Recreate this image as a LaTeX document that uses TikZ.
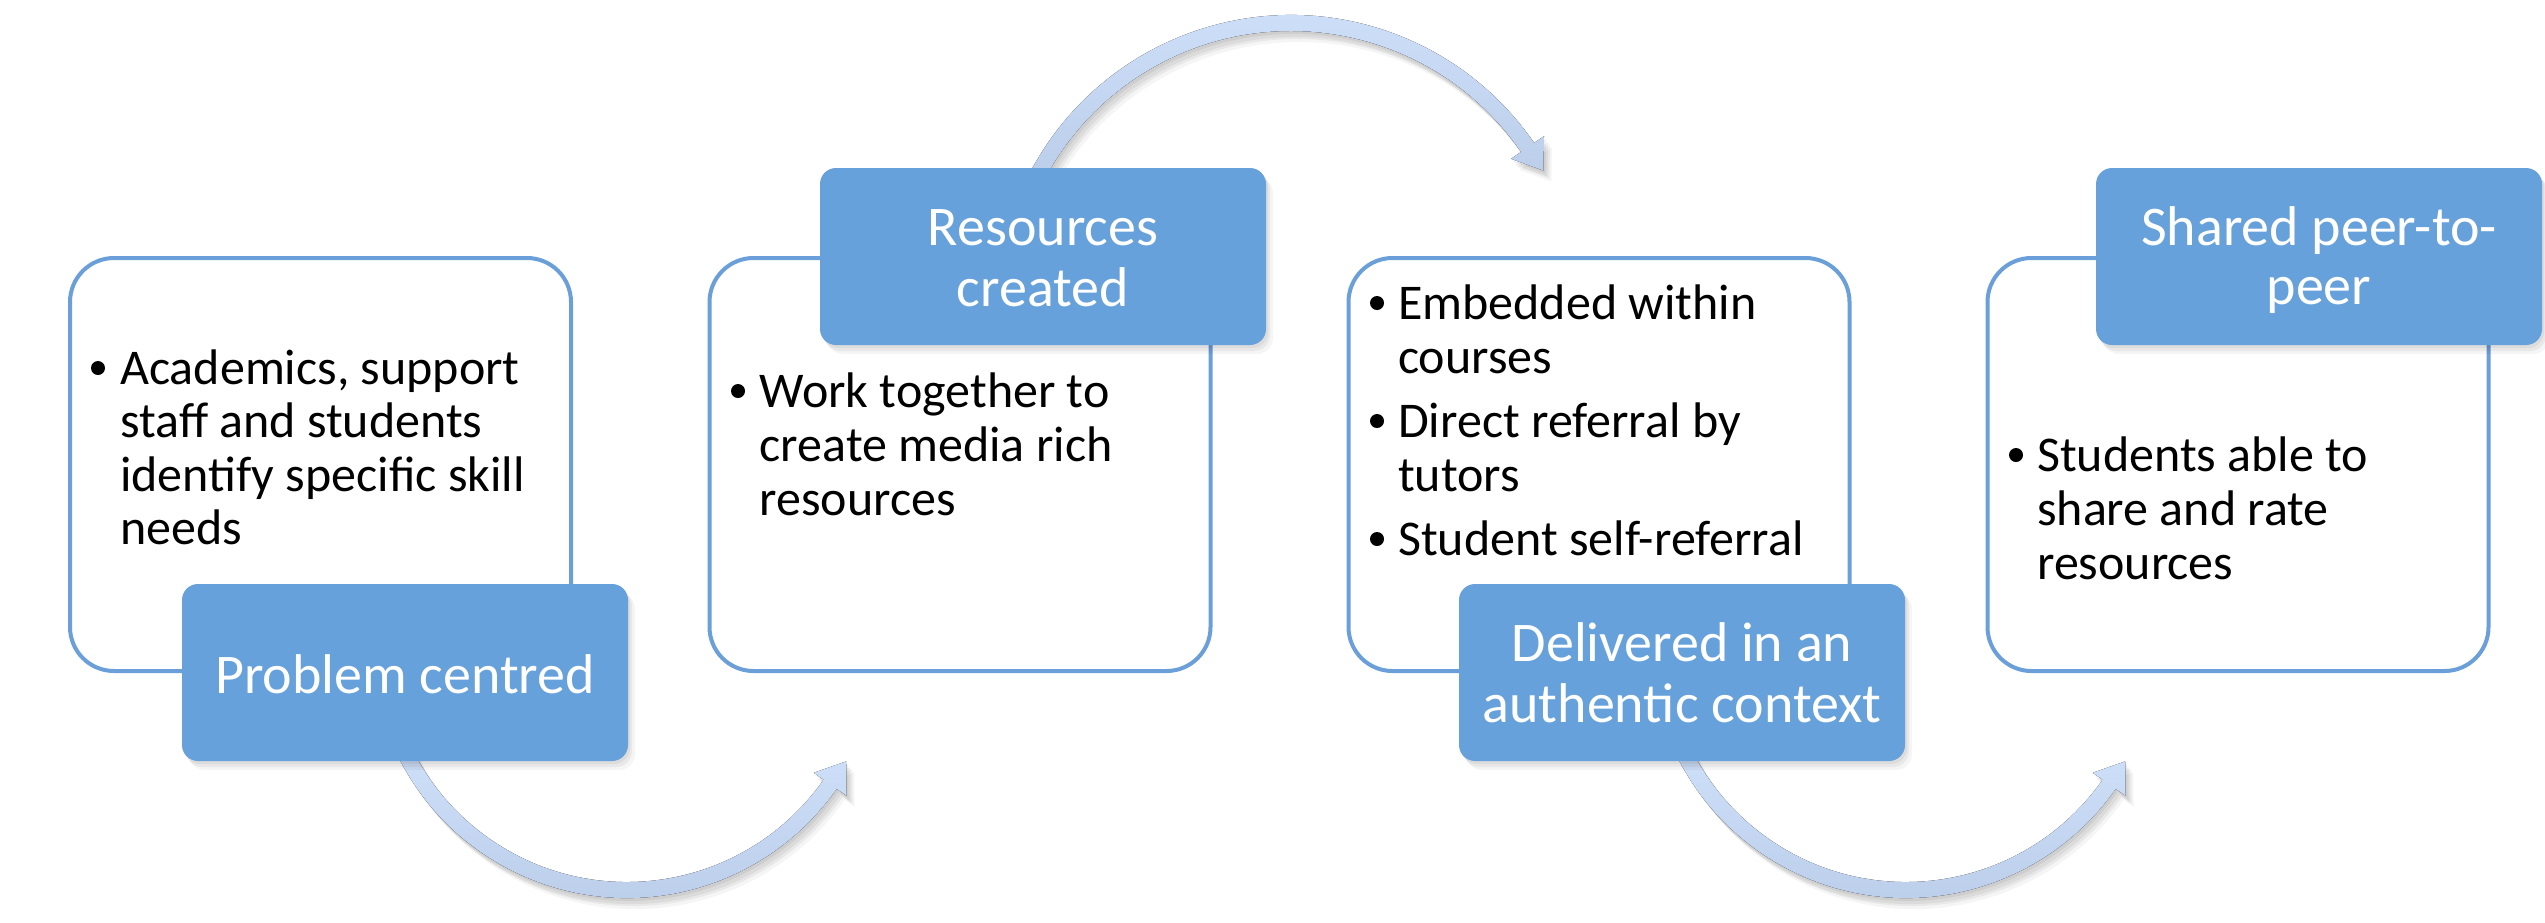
\documentclass[tikz,border=0pt]{standalone}
\usepackage{fontspec}
\setmainfont{Carlito}
\usetikzlibrary{calc,shadows}
\definecolor{boxblue}{HTML}{66A1DB}
\definecolor{boxline}{HTML}{6A9FDA}
\definecolor{arctop}{HTML}{D1E2FB}
\definecolor{arcbot}{HTML}{B8CBE8}
\newcommand\bodysz{\fontsize{50}{54}\selectfont}
\newcommand\labelsz{\fontsize{56}{61}\selectfont}
\begin{document}
\begin{tikzpicture}[x=1pt,y=-1pt,
  whitebox/.style={draw=boxline, line width=4pt, fill=white, rounded corners=44pt,
    minimum width=501pt, minimum height=413pt, inner sep=0pt},
  bluebox/.style={fill=boxblue, rounded corners=16pt, minimum width=446pt,
    minimum height=177pt, inner sep=0pt,
    general shadow={fill=black, opacity=0.04, shadow xshift=7pt, shadow yshift=-9pt},
    general shadow={fill=black, opacity=0.05, shadow xshift=4pt, shadow yshift=-6pt},
    general shadow={fill=black, opacity=0.05, shadow xshift=2pt, shadow yshift=-3pt}},
  txt/.style={anchor=base west, inner sep=0pt, font=\bodysz, text=black},
  bul/.style={circle, fill=black, inner sep=0pt, minimum size=14pt},
  lbl/.style={anchor=base, inner sep=0pt, font=\labelsz, text=white},
  pics/carrow/.style n args={4}{code={
    \pgfmathsetmacro\ro{#1+8}
    \pgfmathsetmacro\ri{#1-8}
    \pgfmathsetmacro\hb{#1+20}
    \pgfmathsetmacro\hc{#1-20}
    \foreach \sx/\sy/\so in {8/11/0.04,6/8/0.05,4/6/0.055,2/3/0.055}{
      \fill[black,opacity=\so,shift={(\sx,\sy)}] (#2:\ro) arc[start angle=#2,end angle=#3,radius=\ro]
        -- (#3:\hb) -- ($(#3:#1)+(#4:28)$) -- (#3:\hc) -- (#3:\ri)
        arc[start angle=#3,end angle=#2,radius=\ri] -- cycle;
    }
    \fill[top color=arctop,bottom color=arcbot] (#2:\ro) arc[start angle=#2,end angle=#3,radius=\ro]
        -- (#3:\hb) -- ($(#3:#1)+(#4:28)$) -- (#3:\hc) -- (#3:\ri)
        arc[start angle=#3,end angle=#2,radius=\ri] -- cycle;
  }}
]
\useasboundingbox (0,0) rectangle (2545,922);
\fill[white] (0,0) rectangle (2545,922);

% circular arrows
\coordinate (c1) at (627,642);
\coordinate (c2) at (1291,310);
\coordinate (c3) at (1906,642);
\pic at (c1) {carrow={248}{160}{35}{-55}};
\pic at (c2) {carrow={287}{-157.5}{-34.5}{55.5}};
\pic at (c3) {carrow={248}{160}{35}{-55}};

% white boxes
\node[whitebox] (w1) at (320.5,464.5) {};
\node[whitebox] (w2) at (960,464.5) {};
\node[whitebox] (w3) at (1599,464.5) {};
\node[whitebox] (w4) at (2238,464.5) {};

% blue label boxes
\node[bluebox] (l1) at (405,672.5) {};
\node[bluebox] (l2) at (1043,256.5) {};
\node[bluebox] (l3) at (1682,672.5) {};
\node[bluebox] (l4) at (2319,256.5) {};

% box 1 text
\node[bul] (b1) at (98,368) {};
\node[txt] (t1a) at (120,384) {Academics, support};
\node[txt] (t1b) at (120,437.5) {staff and students};
\node[txt] (t1c) at (120,491) {identify specific skill};
\node[txt] (t1d) at (120,544.5) {needs};

% box 2 text
\node[bul] (b2) at (738,391) {};
\node[txt] (t2a) at (759.5,407) {Work together to};
\node[txt] (t2b) at (759.5,461) {create media rich};
\node[txt] (t2c) at (759.5,515) {resources};

% box 3 text
\node[bul] (b3a) at (1377,303) {};
\node[txt] (t3a) at (1398,319) {Embedded within};
\node[txt] (t3b) at (1398,373) {courses};
\node[bul] (b3b) at (1377,421) {};
\node[txt] (t3c) at (1398,437) {Direct referral by};
\node[txt] (t3d) at (1398,491) {tutors};
\node[bul] (b3c) at (1377,539) {};
\node[txt] (t3e) at (1398,555) {Student self-referral};

% box 4 text
\node[bul] (b4) at (2016,455) {};
\node[txt] (t4a) at (2037,471) {Students able to};
\node[txt] (t4b) at (2037,525) {share and rate};
\node[txt] (t4c) at (2037,579) {resources};

% label texts
\node[lbl] (p1) at (405,693) {Problem centred};
\node[lbl] (p2a) at (1043,245) {Resources};
\node[lbl] (p2b) at (1043,306) {created};
\node[lbl] (p3a) at (1682,661) {Delivered in an};
\node[lbl] (p3b) at (1682,722) {authentic context};
\node[lbl] (p4a) at (2319,245) {Shared peer-to-};
\node[lbl] (p4b) at (2319,304) {peer};
\end{tikzpicture}
\end{document}
